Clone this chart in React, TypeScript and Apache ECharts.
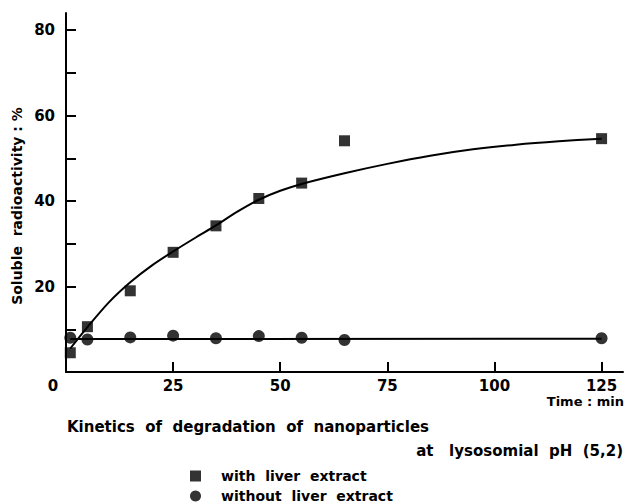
import React, { useEffect, useRef } from "react";
import * as echarts from "echarts";

const timesWith = [1, 5, 15, 25, 35, 45, 55, 65, 125];
const valuesWith = [4.5, 10.6, 19, 28, 34.2, 40.6, 44.2, 54.1, 54.6];
const timesWithout = [1, 5, 15, 25, 35, 45, 55, 65, 125];
const valuesWithout = [8, 7.6, 8.1, 8.5, 7.9, 8.4, 8, 7.5, 7.9];
const fitWithT = [1, 5, 10, 15, 20, 25, 30, 35, 40, 45, 50, 55, 65, 75, 85, 95, 105, 115, 125];
const fitWithV = [5.5, 10.5, 16.3, 21, 24.9, 28.2, 31.3, 34.3, 37.5, 40.3, 42.4, 44, 46.5, 48.7, 50.6, 52.1, 53.2, 54, 54.6];
const fitWithoutT = [1, 125];
const fitWithoutV = [7.7, 7.8];
const xLabelValues = [0, 25, 50, 75, 100, 125];
const xTickValues = [25, 50, 75, 100, 125];
const yLabelValues = [20, 40, 60, 80];
const yTickValues = [10, 20, 30, 40, 50, 60, 70, 80];

const FONT = "DejaVu Sans";

export default function App() {
  const ref = useRef<HTMLDivElement>(null);
  useEffect(() => {
    const chart = echarts.init(ref.current!, null, { renderer: "svg" });
    const pair = (t: number[], v: number[]) => t.map((x, i) => [x, v[i]]);
    chart.setOption({
      animation: false,
      backgroundColor: "#fff",
      grid: { left: 66, right: 3, top: 13, bottom: 132 },
      xAxis: {
        type: "value",
        min: 0,
        max: 130,
        splitLine: { show: false },
        axisLine: { lineStyle: { color: "#000", width: 2 } },
        axisTick: {
          inside: true,
          length: 10,
          customValues: xTickValues,
          lineStyle: { color: "#000", width: 2 },
        },
        axisLabel: {
          customValues: xLabelValues,
          margin: 6,
          color: "#000",
          fontFamily: FONT,
          fontWeight: "bold",
          fontSize: 15,
          formatter: (v: number) => (v === 0 ? "{z|0}" : String(v)),
          rich: {
            z: {
              padding: [0, 26, 0, 0],
              color: "#000",
              fontFamily: FONT,
              fontWeight: "bold",
              fontSize: 15,
            },
          },
        },
      },
      yAxis: {
        type: "value",
        min: 0,
        max: 84,
        splitLine: { show: false },
        axisLine: { lineStyle: { color: "#000", width: 2 } },
        axisTick: {
          inside: true,
          length: 10,
          customValues: yTickValues,
          lineStyle: { color: "#000", width: 2 },
        },
        axisLabel: {
          customValues: yLabelValues,
          margin: 11,
          color: "#000",
          fontFamily: FONT,
          fontWeight: "bold",
          fontSize: 15,
        },
      },
      legend: {
        data: ["with liver extract", "without liver extract"],
        formatter: (name: string) => name.split(" ").join("  "),
        orient: "vertical",
        left: 190,
        top: 469,
        padding: 0,
        itemWidth: 11,
        itemHeight: 11,
        itemGap: 6,
        textStyle: { color: "#000", fontFamily: FONT, fontWeight: "bold", fontSize: 14, padding: [0, 0, 0, 15] },
      },
      graphic: [
        {
          type: "text",
          x: 17,
          y: 206,
          rotation: Math.PI / 2,
          style: {
            text: "Soluble  radioactivity : %",
            fill: "#000",
            font: `bold 14px ${FONT}`,
            align: "center",
            verticalAlign: "middle",
          },
        },
        {
          type: "text",
          x: 624,
          y: 401,
          style: {
            text: "Time : min",
            fill: "#000",
            font: `bold 13px ${FONT}`,
            align: "right",
            verticalAlign: "middle",
          },
        },
        {
          type: "text",
          x: 67,
          y: 427,
          style: {
            text: "Kinetics  of  degradation  of  nanoparticles",
            fill: "#000",
            font: `bold 15px ${FONT}`,
            align: "left",
            verticalAlign: "middle",
          },
        },
        {
          type: "text",
          x: 623,
          y: 451,
          style: {
            text: "at   lysosomial  pH  (5,2)",
            fill: "#000",
            font: `bold 15px ${FONT}`,
            align: "right",
            verticalAlign: "middle",
          },
        },
      ],
      series: [
        {
          name: "fit with",
          type: "line",
          data: pair(fitWithT, fitWithV),
          smooth: 0.3,
          showSymbol: false,
          lineStyle: { color: "#000", width: 2 },
          silent: true,
        },
        {
          name: "fit without",
          type: "line",
          data: pair(fitWithoutT, fitWithoutV),
          showSymbol: false,
          lineStyle: { color: "#000", width: 2 },
          silent: true,
        },
        {
          name: "with liver extract",
          type: "scatter",
          symbol: "rect",
          symbolSize: 11,
          itemStyle: { color: "#000" },
          data: pair(timesWith, valuesWith),
        },
        {
          name: "without liver extract",
          type: "scatter",
          symbol: "circle",
          symbolSize: 12,
          itemStyle: { color: "#000" },
          data: pair(timesWithout, valuesWithout),
        },
      ],
    });
    return () => chart.dispose();
  }, []);
  return <div ref={ref} style={{ width: 626, height: 504, position: "absolute", left: 0, top: 0 }} />;
}
